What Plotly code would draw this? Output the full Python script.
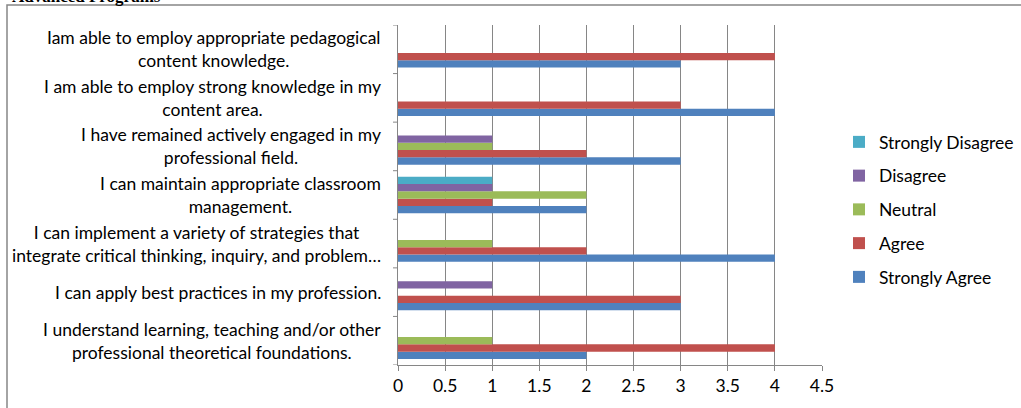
import plotly.graph_objects as go

categories = [
    "I understand learning, teaching and/or other<br>professional theoretical foundations.",
    "I can apply best practices in my profession.",
    "I can implement a variety of strategies that<br>integrate critical thinking, inquiry, and problem…",
    "I can maintain appropriate classroom<br>management.",
    "I have remained actively engaged in my<br>professional field.",
    "I am able to employ strong knowledge in my<br>content area.",
    "Iam able to employ appropriate pedagogical<br>content knowledge.",
]
strongly_agree = [2, 3, 4, 2, 3, 4, 3]
agree = [4, 3, 2, 1, 2, 3, 4]
neutral = [1, 0, 1, 2, 1, 0, 0]
disagree = [0, 1, 0, 1, 1, 0, 0]
strongly_disagree = [0, 0, 0, 1, 0, 0, 0]

series = [
    ("Strongly Agree", strongly_agree, "#4F81BD"),
    ("Agree", agree, "#C0504D"),
    ("Neutral", neutral, "#9BBB59"),
    ("Disagree", disagree, "#8064A2"),
    ("Strongly Disagree", strongly_disagree, "#4BACC6"),
]
x_ticks = [0, 0.5, 1, 1.5, 2, 2.5, 3, 3.5, 4, 4.5]
x_tick_labels = ["0", "0.5", "1", "1.5", "2", "2.5", "3", "3.5", "4", "4.5"]

FONT = "Lato"
FS = 17.5
fig = go.Figure()
for k, (name, vals, color) in enumerate(series):
    fig.add_trace(go.Bar(
        y=list(range(len(categories))), x=vals, name=name, orientation="h",
        marker=dict(color=color, line=dict(width=0)),
        legendgroup=name, legendrank=len(series) - k,
    ))

W, H = 1021, 408
L, R, T, B = 398, 199, 25, 43
pw, ph = W - L - R, H - T - B

for i, c in enumerate(categories):
    fig.add_annotation(
        x=0, xref="paper", y=i, yref="y", text=c, showarrow=False,
        xanchor="right", xshift=-15, align="center",
        font=dict(family=FONT, size=FS, color="#000000"),
    )

# outer chart border
fig.add_shape(type="rect", xref="paper", yref="paper",
              x0=(7 - L) / pw, x1=(W + 20 - L) / pw,
              y0=(T + ph - (H + 20)) / ph, y1=(T + ph - 5) / ph,
              line=dict(color="#868686", width=1.5), fillcolor="rgba(0,0,0,0)")
# partially visible title
fig.add_annotation(x=(10 - L) / pw, xref="paper", y=(T + ph - 8) / ph, yref="paper",
                   text="<b>Advanced Programs</b>", showarrow=False,
                   xanchor="left", yanchor="bottom",
                   font=dict(family="Liberation Serif", size=17, color="#000000"))

fig.update_layout(
    width=W, height=H,
    margin=dict(l=L, r=R, t=T, b=B, autoexpand=False),
    paper_bgcolor="white", plot_bgcolor="white",
    barmode="group", bargap=0.25, bargroupgap=0,
    showlegend=True,
    legend=dict(
        traceorder="grouped", tracegroupgap=8,
        x=(839 - L) / pw, xanchor="left", y=(T + ph - 209.5) / ph, yanchor="middle",
        font=dict(family=FONT, size=FS, color="#000000"),
        itemwidth=30, bgcolor="rgba(0,0,0,0)",
    ),
    xaxis=dict(
        range=[0, 4.5], tickvals=x_ticks, ticktext=x_tick_labels,
        showgrid=True, gridcolor="#868686", gridwidth=1,
        showline=True, linecolor="#868686", linewidth=1,
        ticks="outside", ticklen=5, tickcolor="#868686",
        tickfont=dict(family=FONT, size=FS, color="#000000"),
        zeroline=False, fixedrange=True,
    ),
    yaxis=dict(
        tickvals=list(range(len(categories))), range=[-0.5, len(categories) - 0.5],
        showticklabels=False,
        showline=True, linecolor="#868686", linewidth=1,
        showgrid=False, zeroline=False,
    ),
)
# category boundary ticks on y axis
for k in range(len(categories) + 1):
    fig.add_shape(type="line", xref="paper", yref="y", x0=-5 / pw, x1=0,
                  y0=k - 0.5, y1=k - 0.5, line=dict(color="#868686", width=1))

fig.write_html("out.html", config={"displayModeBar": False},
               post_script="document.body.style.margin='0';")
